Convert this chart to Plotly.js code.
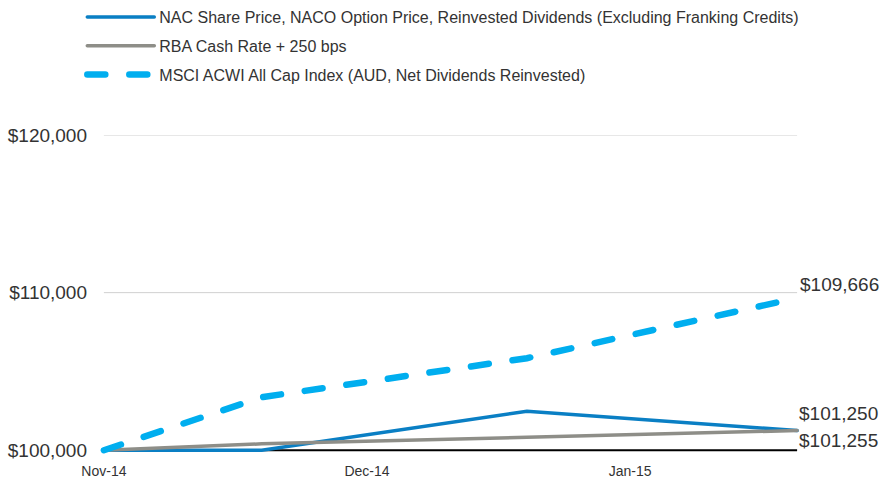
<!DOCTYPE html>
<html><head><meta charset="utf-8">
<script src="https://cdn.plot.ly/plotly-3.0.1.min.js"></script>
<style>body{margin:0;background:#fff}.js-line{stroke-linecap:round}</style>
</head><body><div id="chart" style="width:885px;height:480px"></div>
<script>
const xPos = [0, 0.60, 1.608, 2.635];
const tickVals = [0, 1, 2];
const tickText = ['Nov-14', 'Dec-14', 'Jan-15'];
const nacValues = [100000, 100000, 102476, 101250];
const rbaValues = [100000, 100410, 100820, 101255];
const msciValues = [100000, 103365, 105841, 109666];
const yTicks = [100000, 110000, 120000];
const names = ['NAC Share Price, NACO Option Price, Reinvested Dividends (Excluding Franking Credits)', 'RBA Cash Rate + 250 bps', 'MSCI ACWI All Cap Index (AUD, Net Dividends Reinvested)'];

const fmt = v => '$' + v.toLocaleString('en-US');
const font = 'Liberation Sans, Arial, sans-serif';
const txt = '#333333';

const traces = [
  {x: xPos, y: nacValues, name: names[0], legendgroup: 'a', mode: 'lines', line: {color: '#0a7fc4', width: 3.5}},
  {x: xPos, y: rbaValues, name: names[1], legendgroup: 'b', mode: 'lines', line: {color: '#8e8e88', width: 3.5}},
  {x: xPos, y: msciValues, name: names[2], legendgroup: 'c', mode: 'lines', line: {color: '#00aeef', width: 6.5, dash: '18px,24px'}}
];
const last = xPos.length - 1;
const shapes = yTicks.map((v, i) => ({type: 'line', xref: 'x', yref: 'y', x0: xPos[0], x1: xPos[last], y0: v, y1: v, layer: 'below', line: {color: i === 0 ? '#000' : '#d0d0d0', width: i === 0 ? 2 : 1}}));
const annotations = [
  {x: xPos[last], y: msciValues[last], text: fmt(msciValues[last]), xanchor: 'left', yanchor: 'middle', showarrow: false, xshift: 1, yshift: 13},
  {x: xPos[last], y: nacValues[last], text: fmt(nacValues[last]), xanchor: 'left', yanchor: 'middle', showarrow: false, xshift: 0, yshift: 17},
  {x: xPos[last], y: rbaValues[last], text: fmt(rbaValues[last]), xanchor: 'left', yanchor: 'middle', showarrow: false, xshift: 0, yshift: -10}
].map(a => Object.assign(a, {font: {family: font, size: 19, color: txt}}));

const layout = {
  width: 885, height: 480,
  margin: {l: 96, r: 80, t: 135, b: 25, autoexpand: false},
  paper_bgcolor: '#fff', plot_bgcolor: '#fff',
  font: {family: font, color: txt},
  showlegend: true,
  legend: {xref: 'container', yref: 'container', x: 0.093, y: 1.01, xanchor: 'left', yanchor: 'top', orientation: 'v', traceorder: 'grouped', tracegroupgap: 5, itemwidth: 67, font: {family: font, size: 16, color: txt}, bgcolor: 'rgba(0,0,0,0)'},
  xaxis: {range: [-0.03, 2.665], tickvals: tickVals, ticktext: tickText, showgrid: false, zeroline: false, showline: false, ticks: '', ticklabelstandoff: 6, tickfont: {size: 14, color: txt}, fixedrange: true},
  yaxis: {range: [99700, 120000], tickvals: yTicks, ticktext: yTicks.map(fmt), showgrid: false, zeroline: false, showline: false, ticks: '', ticklabelstandoff: 8, tickfont: {size: 19, color: txt}, fixedrange: true},
  shapes: shapes,
  annotations: annotations
};
Plotly.newPlot('chart', traces, layout, {displayModeBar: false, staticPlot: true});
</script></body></html>
